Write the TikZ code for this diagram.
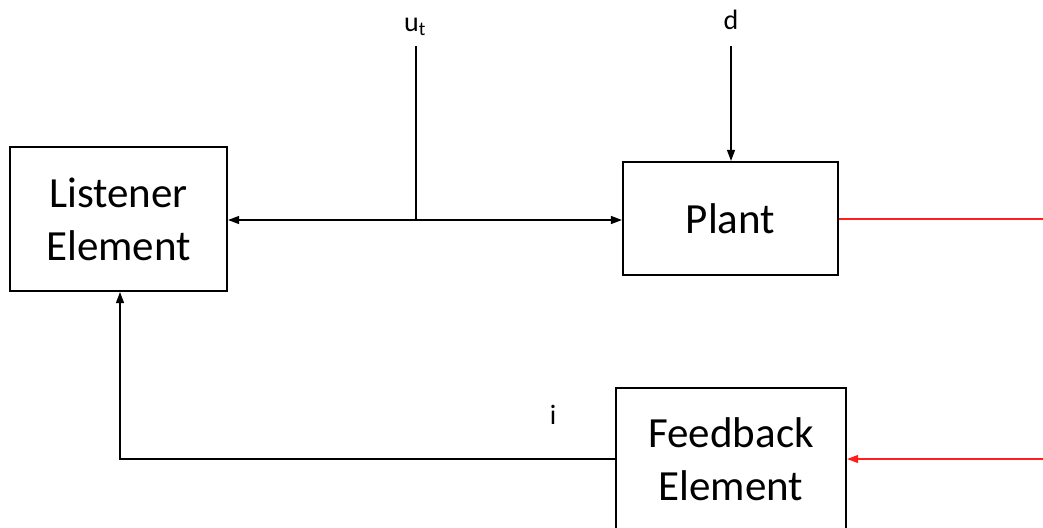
\documentclass[tikz,border=0pt]{standalone}
\usepackage{fontspec}
\setmainfont{Carlito}
\usetikzlibrary{arrows.meta}
\definecolor{sigred}{RGB}{255,30,30}
\tikzset{
  block/.style={draw, line width=2.2pt, inner sep=0pt, align=center,
    font=\fontsize{43}{53}\selectfont},
  wire/.style={line width=1.2pt},
  sig/.style={wire, -{Triangle[length=11pt,width=8pt]}},
  lbl/.style={inner sep=0pt, font=\fontsize{28}{32}\selectfont},
}
\begin{document}
\begin{tikzpicture}[x=1pt,y=-1pt]
      \useasboundingbox (0,0) rectangle (1043,527);
      \draw
        (118.5,219) node[block, minimum width=217pt, minimum height=144pt] (listener){Listener\\Element}
        (730.5,218.5) node[block, minimum width=215pt, minimum height=113pt] (plant){Plant}
        (731,459) node[block, minimum width=230pt, minimum height=142pt] (feedback){Feedback\\Element};
      \node[lbl] (ut) at (415,27) {u\textsubscript{t}};
      \node[lbl] (d) at (731,20) {d};
      \node[lbl] (i) at (553,415) {i};
      \coordinate (utop) at (416,46);
      \coordinate (junc) at (416,220);
      \coordinate (dtop) at (731,46);
      \coordinate (outend) at (1043,219);
      \coordinate (inend) at (1043,459);
      \coordinate (corner) at (120,459);
      \begin{scope}
        \draw[wire] (utop) -- (junc);
        \draw[sig] (junc) -- (listener.east |- junc);
        \draw[sig] (junc) -- (plant.west |- junc);
        \draw[sig] (dtop) -- (plant.north -| dtop);
        \draw[wire, sigred] (plant.east |- outend) -- (outend);
        \draw[sig, sigred] (inend) -- (feedback.east |- inend);
        \draw[sig] (feedback.west |- inend) -- (corner) -- (listener.south -| corner);
      \end{scope}
    \end{tikzpicture}
\end{document}
